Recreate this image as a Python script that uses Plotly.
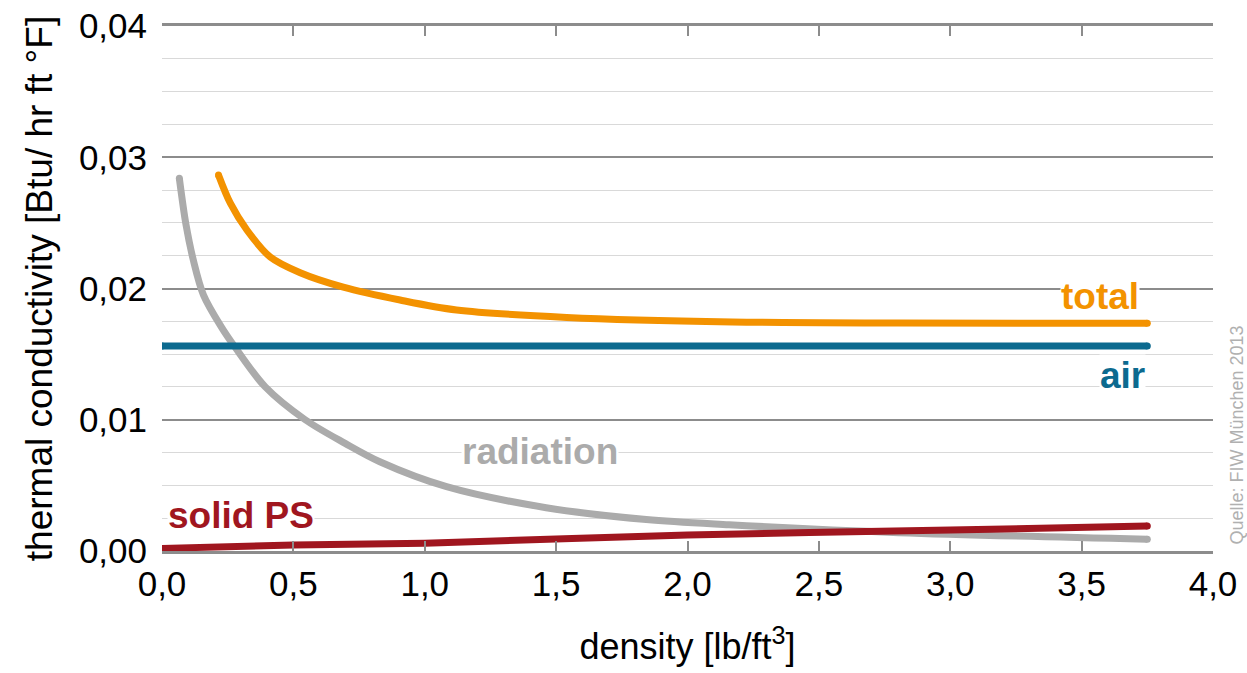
import plotly.graph_objects as go

# density [lb/ft^3] and thermal conductivity [Btu/ hr ft °F] for each component
total_x = [0.215, 0.26, 0.323, 0.412, 0.526, 0.69, 0.906, 1.121, 1.54, 2.17, 2.8, 3.75]
total_y = [0.02865, 0.0265, 0.02446, 0.0224, 0.0212, 0.0201, 0.01912, 0.01836, 0.0178, 0.01745, 0.01737, 0.01735]

air_x = [0.0, 3.75]
air_y = [0.01562, 0.01562]

rad_x = [0.066, 0.091, 0.12, 0.158, 0.225, 0.279, 0.393, 0.545, 0.697, 0.829, 1.083,
         1.462, 1.843, 2.158, 2.803, 3.75]
rad_y = [0.0284, 0.0249, 0.0221, 0.0195, 0.0171, 0.0155, 0.0125, 0.0100, 0.0082, 0.0068, 0.0049,
         0.0033, 0.0024, 0.0020, 0.0014, 0.0009]

ps_x = [0.0, 0.5, 1.0, 2.0, 3.0, 3.75]
ps_y = [0.0002, 0.00046, 0.0006, 0.00122, 0.0016, 0.0019]

x_ticks = [0.0, 0.5, 1.0, 1.5, 2.0, 2.5, 3.0, 3.5, 4.0]
y_ticks = [0.00, 0.01, 0.02, 0.03, 0.04]

ORANGE = "#F39200"
TEAL = "#0C6A8F"
GREY = "#ABABAB"
RED = "#A0161F"
LW = 7
FONT = "Liberation Sans, Arial"

series = [
    ("radiation", rad_x, rad_y, GREY),
    ("solid PS", ps_x, ps_y, RED),
    ("air", air_x, air_y, TEAL),
    ("total", total_x, total_y, ORANGE),
]

fig = go.Figure()
for name, xs, ys, col in series:
    fig.add_trace(go.Scatter(
        x=xs, y=ys, mode="lines", name=name,
        line=dict(color=col, width=LW, shape="spline", smoothing=0.9),
        showlegend=False, hoverinfo="skip",
    ))
    # rounded ends of each curve
    fig.add_trace(go.Scatter(
        x=[xs[0], xs[-1]], y=[ys[0], ys[-1]], mode="markers",
        marker=dict(color=col, size=LW, line=dict(width=0)),
        showlegend=False, hoverinfo="skip",
    ))

labels = [
    ("total", 3.57, 0.0194, ORANGE),
    ("air", 3.655, 0.01335, TEAL),
    ("radiation", 1.438, 0.00755, GREY),
    ("solid PS", 0.30, 0.00272, RED),
]
for text, lx, ly, col in labels:
    fig.add_annotation(
        x=lx, y=ly, text=f"<b>{text}</b>", showarrow=False,
        font=dict(family=FONT, size=37, color=col),
        bgcolor="white", borderpad=0, xanchor="center", yanchor="middle",
    )

fig.add_annotation(
    xref="paper", yref="paper", x=1.0, y=0.22, xshift=23,
    text="Quelle: FIW München 2013", textangle=-90, showarrow=False,
    font=dict(family=FONT, size=18, color="#B0B0B0"),
    xanchor="center", yanchor="middle",
)

fig.update_layout(
    width=1247, height=673,
    margin=dict(l=162, r=34, t=26, b=122),
    paper_bgcolor="white", plot_bgcolor="white",
    separators=", ",
    font=dict(family=FONT, color="black"),
)
fig.update_xaxes(
    range=[0, 4.0], tickvals=x_ticks, tickformat=".1f", automargin=False,
    ticks="inside", ticklen=10, tickwidth=2, tickcolor="#8C8C8C",
    showline=True, linecolor="#8C8C8C", linewidth=3, mirror="ticks",
    showgrid=False, zeroline=False,
    tickfont=dict(size=35), ticklabelstandoff=0,
    title=dict(text="density [lb/ft<sup>3</sup>]", font=dict(size=36), standoff=32),
)
fig.update_yaxes(
    range=[0, 0.04], tickvals=y_ticks, tickformat=".2f", automargin=False,
    showgrid=True, gridcolor="#8C8C8C", gridwidth=2,
    minor=dict(dtick=0.0025, showgrid=True, gridcolor="#D9D9D9", gridwidth=1),
    zeroline=False, showline=False, ticks="",
    tickfont=dict(size=35), ticklabelstandoff=14,
    title=dict(text="thermal conductivity [Btu/ hr ft °F]", font=dict(size=37), standoff=14),
)

fig.write_html("out.html")
